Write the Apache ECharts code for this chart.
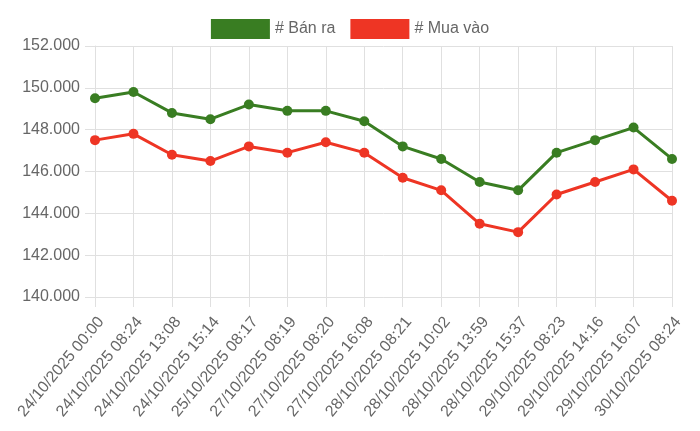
<!DOCTYPE html>
<html>
<head>
<meta charset="utf-8">
<script src="https://cdn.jsdelivr.net/npm/echarts@6/dist/echarts.min.js"></script>
<style>
  html, body { margin: 0; padding: 0; background: #fff; }
  #chart { width: 700px; height: 431px; }
</style>
</head>
<body>
<div id="chart"></div>
<script>
// times of each price update
const labels = [
  '24/10/2025 00:00', '24/10/2025 08:24', '24/10/2025 13:08', '24/10/2025 15:14',
  '25/10/2025 08:17', '27/10/2025 08:19', '27/10/2025 08:20', '27/10/2025 16:08',
  '28/10/2025 08:21', '28/10/2025 10:02', '28/10/2025 13:59', '28/10/2025 15:37',
  '29/10/2025 08:23', '29/10/2025 14:16', '29/10/2025 16:07', '30/10/2025 08:24'
];
const banRa = [149500, 149800, 148800, 148500, 149200, 148900, 148900, 148400,
               147200, 146600, 145500, 145100, 146900, 147500, 148100, 146600];
const muaVao = [147500, 147800, 146800, 146500, 147200, 146900, 147400, 146900,
                145700, 145100, 143500, 143100, 144900, 145500, 146100, 144600];

const GREEN = '#397d22';
const RED = '#ee3524';
const GRID = '#e0e0e0';
const MUTED = '#666';
const FONT = '"Helvetica Neue", Helvetica, Arial, "Liberation Sans", sans-serif';

function fmt(v) {
  return String(v).replace(/\B(?=(\d{3})+(?!\d))/g, '.');
}

function lineSeries(name, data, color) {
  return {
    name, type: 'line', data,
    symbol: 'circle', symbolSize: 10,
    lineStyle: { width: 3, color },
    itemStyle: { color },
    emphasis: { disabled: true }
  };
}

const chart = echarts.init(document.getElementById('chart'), null, { renderer: 'canvas' });
chart.setOption({
  animation: false,
  textStyle: { fontFamily: FONT },
  legend: {
    top: 14, left: 'center',
    icon: 'rect', itemWidth: 59, itemHeight: 20, itemGap: 15,
    textStyle: { color: MUTED, fontSize: 16, fontFamily: FONT },
    data: [
      { name: '# Bán ra', itemStyle: { color: GREEN } },
      { name: '# Mua vào', itemStyle: { color: RED } }
    ]
  },
  grid: { left: 95, right: 28, top: 46, bottom: 134, containLabel: false },
  xAxis: {
    type: 'category', data: labels, boundaryGap: false,
    axisLine: { lineStyle: { color: GRID } },
    axisTick: { show: true, length: 10, alignWithLabel: true, lineStyle: { color: GRID } },
    // top-anchored so the rotated labels sit down-right of the tick, like the original
    axisLabel: { color: MUTED, fontSize: 16, rotate: 50, margin: 17, verticalAlign: 'top',
                 interval: 0, fontFamily: FONT },
    splitLine: { show: true, lineStyle: { color: GRID } }
  },
  yAxis: {
    type: 'value', min: 140000, max: 152000, interval: 2000,
    axisLine: { show: true, lineStyle: { color: GRID } },
    axisTick: { show: true, length: 10, lineStyle: { color: GRID } },
    axisLabel: { color: MUTED, fontSize: 16, margin: 15, formatter: fmt, fontFamily: FONT },
    splitLine: { lineStyle: { color: GRID } }
  },
  series: [
    lineSeries('# Bán ra', banRa, GREEN),
    lineSeries('# Mua vào', muaVao, RED)
  ]
});
</script>
</body>
</html>
